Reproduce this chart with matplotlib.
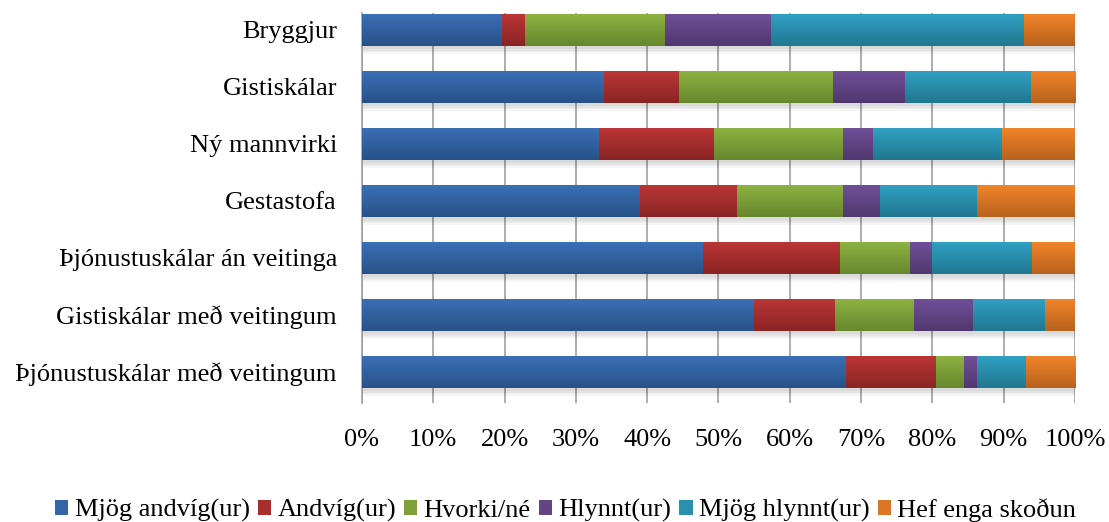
import matplotlib
matplotlib.use("Agg")
import matplotlib.pyplot as plt
from matplotlib.patches import Patch
from matplotlib.ticker import PercentFormatter
import numpy as np

plt.rcParams['font.family'] = ['Liberation Serif', 'DejaVu Serif']

categories = ["Bryggjur", "Gistiskálar", "Ný mannvirki", "Gestastofa",
              "Þjónustuskálar án veitinga", "Gistiskálar með veitingum",
              "Þjónustuskálar með veitingum"]

series_names = ["Mjög andvíg(ur)", "Andvíg(ur)", "Hvorki/né", "Hlynnt(ur)",
                "Mjög hlynnt(ur)", "Hef enga skoðun"]

mjog_andvig = [19.7, 33.9, 33.2, 39.0, 47.9, 55.0, 67.9]
andvig = [3.1, 10.5, 16.2, 13.6, 19.1, 11.3, 12.6]
hvorki = [19.7, 21.6, 18.1, 14.8, 9.9, 11.1, 4.0]
hlynnt = [14.8, 10.2, 4.2, 5.2, 3.0, 8.3, 1.8]
mjog_hlynnt = [35.6, 17.6, 18.1, 13.7, 14.1, 10.1, 6.8]
hef_enga = [7.1, 6.2, 10.2, 13.7, 6.0, 4.2, 6.9]

series = [mjog_andvig, andvig, hvorki, hlynnt, mjog_hlynnt, hef_enga]

# couleurs haut / bas pour le dégradé (style Excel 2007)
top_colors = ["#3a70b5", "#ba3636", "#8eb242", "#704f98", "#30a0c2", "#f08429"]
bottom_colors = ["#285188", "#8a2424", "#67872d", "#50386f", "#207790", "#b8621e"]
base_colors = ["#3466a6", "#a92f2f", "#7ea03a", "#634586", "#2b90ae", "#da7624"]

fig = plt.figure(figsize=(11.09, 5.22), dpi=100)
ax = fig.add_axes([0.3264, 0.2280, 0.6429, 0.7471])

y = np.arange(len(categories))
bar_h = 0.56
left = np.zeros(len(categories))

# ombre sous les barres
for k in range(4):
    ax.barh(y + 0.06 + k * 0.025, 100, height=bar_h, color="black",
            alpha=0.035, zorder=1, linewidth=0)

for i, vals in enumerate(series):
    bars = ax.barh(y, vals, height=bar_h, left=left, color=base_colors[i],
                   linewidth=0, zorder=2)
    grad = np.linspace(0, 1, 64)[:, None, None]
    c_top = np.array(matplotlib.colors.to_rgb(top_colors[i]))
    c_bot = np.array(matplotlib.colors.to_rgb(bottom_colors[i]))
    img = c_top * (1 - grad) + c_bot * grad
    for b in bars:
        x0, w = b.get_x(), b.get_width()
        y0, h = b.get_y(), b.get_height()
        ax.imshow(img, extent=(x0, x0 + w, y0 + h, y0), origin="upper",
                  aspect="auto", zorder=3, interpolation="bilinear")
    left = left + np.array(vals)

ax.set_xlim(0, 100)
ax.set_ylim(6.544, -0.298)
ax.set_yticks(y)
ax.set_yticklabels(categories, fontsize=19)
ax.set_xticks(np.arange(0, 101, 10))
ax.xaxis.set_major_formatter(PercentFormatter(decimals=0))
ax.tick_params(axis="x", labelsize=19, length=0, pad=19)
ax.tick_params(axis="y", length=0, pad=18)
ax.xaxis.grid(True, color="#a0a0a0", linewidth=1.2, zorder=0)
ax.set_axisbelow(True)
for s in ["top", "right", "bottom"]:
    ax.spines[s].set_visible(False)
ax.spines["left"].set_color("#a0a0a0")
ax.spines["left"].set_linewidth(1.2)

handles = [Patch(facecolor=base_colors[i], edgecolor="none") for i in range(len(series))]
fig.legend(handles, series_names, loc="center", bbox_to_anchor=(0.51, 0.023),
           ncol=6, frameon=False, fontsize=19, handlelength=0.5, handleheight=0.5,
           handletextpad=0.25, columnspacing=0.3)

fig.savefig("out.png", dpi=100)
